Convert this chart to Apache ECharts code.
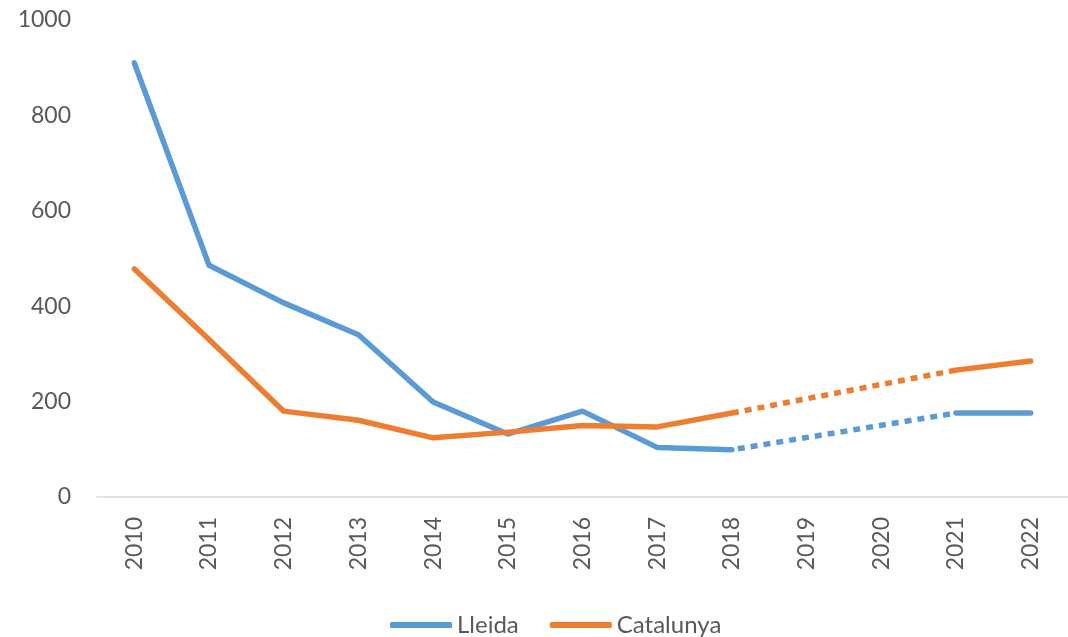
<!DOCTYPE html>
<html>
<head>
<meta charset="utf-8">
<script src="https://cdn.jsdelivr.net/npm/echarts@6/dist/echarts.min.js"></script>
<style>
html,body{margin:0;padding:0;background:#fff;}
#main{width:1068px;height:637px;}
</style>
</head>
<body>
<div id="main"></div>
<script>
var years = ['2010','2011','2012','2013','2014','2015','2016','2017','2018','2019','2020','2021','2022'];
// solid parts (no data for 2019-2020)
var lleida    = [910, 486, 407, 340, 199, 132, 180, 104, 99, null, null, 176, 176];
var catalunya = [478, 330, 180, 161, 124, 136, 150, 147, 176, null, null, 266, 285];
// dotted gap 2018 -> 2021
var lleidaGap    = [null, null, null, null, null, null, null, null, 99, null, null, 176, null];
var catalunyaGap = [null, null, null, null, null, null, null, null, 176, null, null, 266, null];
var yTicks = [0, 200, 400, 600, 800, 1000];

var blue = '#5B9BD5', orange = '#ED7D31', txt = '#595959';
var font = 'Lato, "Open Sans", "Liberation Sans", sans-serif';

var myChart = echarts.init(document.getElementById('main'));

function solid(name, data, color){
	return {
		name: name, type: 'line', data: data,
		showSymbol: false, connectNulls: false, silent: true,
		lineStyle: {color: color, width: 5.5, cap: 'round', join: 'round'},
		itemStyle: {color: color}
	};
}
function dotted(name, data, color, offset){
	return {
		name: name, type: 'line', data: data,
		showSymbol: false, connectNulls: true, silent: true,
		lineStyle: {color: color, width: 5.5, type: [7, 6], dashOffset: offset, cap: 'butt'},
		itemStyle: {color: color}
	};
}

var option = {
	animation: false,
	textStyle: {fontFamily: font},
	grid: {left: 97, right: -7, top: 20, bottom: 140},
	legend: {
		data: ['Lleida', 'Catalunya'],
		left: 385, top: 608,
		itemWidth: 62, itemHeight: 6, itemGap: 31,
		icon: 'roundRect',
		textStyle: {color: txt, fontSize: 24, fontFamily: font}
	},
	xAxis: {
		type: 'category',
		data: years,
		boundaryGap: true,
		axisLine: {lineStyle: {color: '#D9D9D9', width: 1.5}},
		axisTick: {show: false},
		axisLabel: {rotate: 90, color: txt, fontSize: 23, margin: 20, fontFamily: font}
	},
	yAxis: {
		type: 'value',
		min: yTicks[0], max: yTicks[yTicks.length - 1], interval: 200,
		axisLine: {show: false},
		axisTick: {show: false},
		splitLine: {show: false},
		axisLabel: {
			color: txt, fontSize: 23, margin: 26, fontFamily: font,
			formatter: function(v){ return String(v); }
		}
	},
	series: [
		solid('Lleida', lleida, blue),
		solid('Catalunya', catalunya, orange),
		dotted('Lleida ', lleidaGap, blue, 7),
		dotted('Catalunya ', catalunyaGap, orange, 0)
	]
};

myChart.setOption(option);
</script>
</body>
</html>
